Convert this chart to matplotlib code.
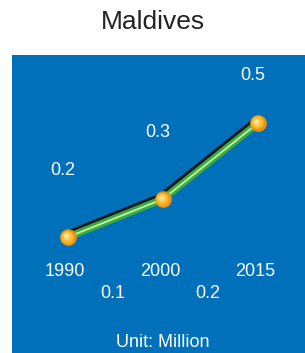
###Matplotlib
import matplotlib.pyplot as plt
import matplotlib.patheffects as pe
from matplotlib.transforms import offset_copy

###Data
years = ["1990", "2000", "2015"]
population = [0.2, 0.3, 0.5]          # million
growth = ["0.1", "0.2"]               # change between periods
unit_label = "Unit: Million"
title = "Maldives"

plt.rcParams['font.family'] = ['Liberation Sans', 'DejaVu Sans']

BLUE = '#0070BA'
xs = list(range(len(years)))

fig = plt.figure(figsize=(3.05, 3.53), dpi=100)
fig.patch.set_facecolor('white')
fig.text(0.5, 1 - 22/353, title, ha='center', va='center', fontsize=19, color='#222222')

ax = fig.add_axes([12/305, 0, 293/305, 298/353])
ax.set_facecolor(BLUE)
ax.set_xlim(-0.589, 2.495)
ax.set_ylim(-0.105, 0.679)
for s in ax.spines.values():
	s.set_visible(False)
ax.set_xticks([])
ax.set_yticks([])

############### Line with shadow and highlight ################
ax.plot(xs, population, color='#3DAA3D', lw=5.2, solid_capstyle='round', zorder=3,
		path_effects=[pe.SimpleLineShadow(offset=(-1.3, 1.6), shadow_color='#151515', alpha=0.95),
					  pe.Normal()])
ax.plot(xs, population, color='#BFF2A8', lw=1.3, zorder=4)

############### Glossy markers ################
layers = [(12.0, '#E9920E', 0, 0), (9.5, '#F3AE25', -0.4, 0.4), (7.0, '#F8C445', -0.8, 0.8),
		  (4.5, '#FCD970', -1.1, 1.1), (2.0, '#FFEDB5', -1.3, 1.3)]
for ms, col, dx, dy in layers:
	tr = offset_copy(ax.transData, fig=fig, x=dx, y=dy, units='points')
	ax.plot(xs, population, ls='none', marker='o', ms=ms, color=col, mec='none',
			transform=tr, zorder=5)

############### Value labels ################
top_label = 0.624
for x, v in zip(xs, population):
	ax.text(x - 0.05, min(v + 0.176, top_label), "%g" % v, ha='center', va='center',
			fontsize=13, color='white')

############### Year labels and growth labels ################
yr_tr = ax.get_xaxis_transform()
for x, yr in zip(xs, years):
	ax.text(x - 0.03, 0.275, yr, ha='center', va='center', fontsize=13, color='white', transform=yr_tr)
for i, g in enumerate(growth):
	ax.text(xs[i] + 0.47, 0.201, g, ha='center', va='center', fontsize=13, color='white', transform=yr_tr)

ax.text(1, 0.034, unit_label, ha='center', va='center', fontsize=13, color='white', transform=yr_tr)

fig.savefig('out.png', dpi=100)
